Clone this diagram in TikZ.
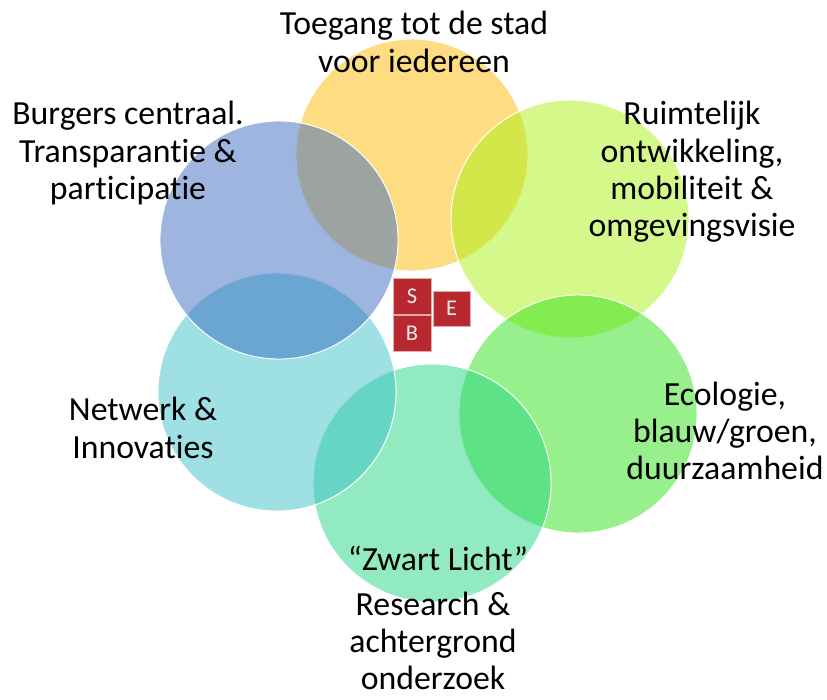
\documentclass[tikz,border=0pt]{standalone}
\usepackage{fontspec}
\setmainfont[Ligatures=NoCommon]{Carlito}
\definecolor{toegangYellow}{RGB}{251,185,5}
\definecolor{burgerBlue}{RGB}{59,107,191}
\definecolor{ruimteGreen}{RGB}{171,241,21}
\definecolor{ecoGreen}{RGB}{49,225,25}
\definecolor{zwartMint}{RGB}{37,213,129}
\definecolor{netCyan}{RGB}{61,193,201}
\definecolor{sbeRed}{RGB}{184,41,47}
\tikzset{
  blob/.style={circle, draw=white, line width=0.7pt, fill opacity=0.5, minimum size=5.95cm, inner sep=0pt},
  theme/.style={align=center, font=\fontsize{24}{26.5}\selectfont, inner sep=0pt},
  sbe/.style={fill=sbeRed, draw=sbeRed!40, line width=0.4pt, text=white!92!black, minimum width=0.95cm, minimum height=0.9cm, inner sep=0pt, font=\fontsize{16}{16}\selectfont}
}
\begin{document}
\begin{tikzpicture}[x=0.025cm, y=-0.025cm]
        \useasboundingbox (0,0) rectangle (827,699);
        % circles, back to front
        \node[blob, fill=toegangYellow, minimum size=5.8cm] (toegang) at (412,155) {};
        \node[blob, fill=ruimteGreen] (ruimte) at (570,219) {};
        \node[blob, fill=ecoGreen] (eco) at (578,414) {};
        \node[blob, fill=zwartMint] (zwart) at (432,483) {};
        \node[blob, fill=netCyan] (netwerk) at (277,392) {};
        \node[blob, fill=burgerBlue] (burgers) at (279,240) {};

        % texts
        \node[theme] (t1) at (414,42) {Toegang tot de stad\\voor iedereen};
        \node[theme] (t2) at (128,153) {Burgers centraal.\\Transparantie \&\\participatie};
        \node[theme] (t3) at (692,172) {Ruimtelijk\\ontwikkeling,\\mobiliteit \&\\omgevingsvisie};
        \node[theme] (t4) at (143,428) {Netwerk \&\\Innovaties};
        \node[theme] (t5) at (725,431) {Ecologie,\\blauw/groen,\\duurzaamheid};
        \node[theme] (t6) at (438,558) {“Zwart Licht”};
        \node[theme] (t7) at (433,641) {Research \&\\achtergrond\\onderzoek};

        % S B E blocks
        \node[sbe] (S) at (412,296) {S};
        \node[sbe] (B) at (412,333.5) {B};
        \node[sbe, minimum width=0.925cm, minimum height=0.875cm] (E) at (451.5,308.5) {E};
      \end{tikzpicture}
\end{document}
